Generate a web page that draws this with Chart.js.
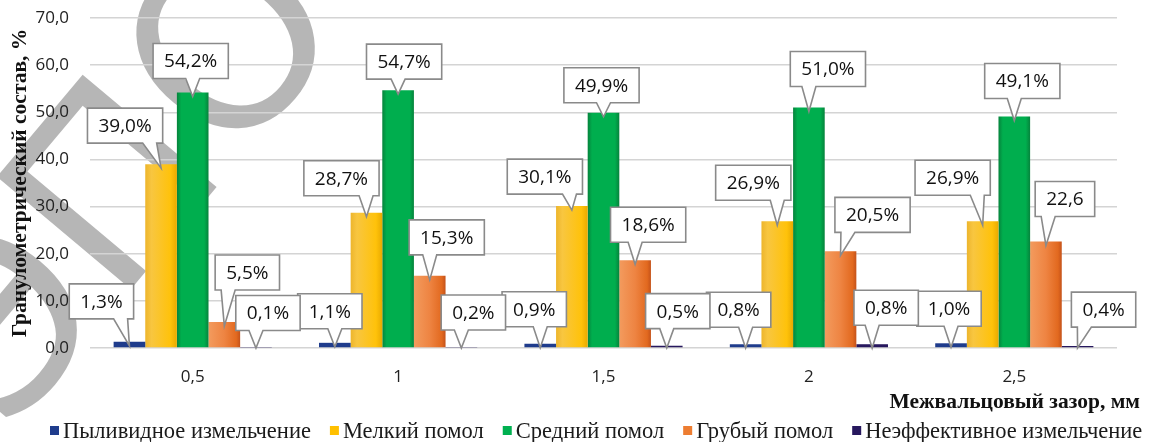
<!DOCTYPE html>
<html>
<head>
<meta charset="utf-8">
<script src="https://cdn.jsdelivr.net/npm/chart.js@4.4.1/dist/chart.umd.min.js"></script>
<style>
  html, body { margin: 0; padding: 0; background: #fff; }
  #chart { display: block; }
</style>
</head>
<body>
<canvas id="chart" width="1151" height="442"></canvas>
<script>
/* --------------- Data --------------- */
const gapLabels = ["0,5", "1", "1,5", "2", "2,5"];
const seriesNames = [
  "Пыливидное измельчение",
  "Мелкий помол",
  "Средний помол",
  "Грубый помол",
  "Неэффективное измельчение",
];
const dustValues = [1.3, 1.1, 0.9, 0.8, 1.0];
const fineValues = [39.0, 28.7, 30.1, 26.9, 26.9];
const mediumValues = [54.2, 54.7, 49.9, 51.0, 49.1];
const coarseValues = [5.5, 15.3, 18.6, 20.5, 22.6];
const wasteValues = [0.1, 0.2, 0.5, 0.8, 0.4];
const yTicks = [0, 10, 20, 30, 40, 50, 60, 70];
// the 2,5 label of "Грубый помол" was printed without the % sign
const labelNoPercent = [[3, 4]];

/* --------------- Colors --------------- */
const seriesColors = ["#1F3C8C", "#FFC000", "#00B050", "#ED7D31", "#27185E"];
const seriesStops = [
  null,
  [[0, "#EDB52C"], [0.2, "#F8C640"], [0.8, "#FFC20A"], [1, "#E9AA00"]],
  [[0, "#06833C"], [0.14, "#00AE4E"], [0.86, "#00AE4E"], [1, "#06833C"]],
  [[0, "#F39B5E"], [0.5, "#EE8442"], [0.88, "#E2691F"], [1, "#C4521A"]],
  null,
];

/* --------------- Callout placement (box shift x, gap above bar) per category/series --------------- */
const calloutShift = [
  [-28, -36, -2, 23, 12],
  [-5, -25, 6, 17, 12],
  [-6, -27, -2, 13, 11],
  [-7, -24, 19, 32, 14],
  [-2, -30, 8, 19, 26],
];
const calloutGap = [
  [23, 21, 14, 32, 17],
  [14, 17, 11, 21, 17],
  [17, 12, 10, 18, 17],
  [17, 21, 21, 19, 19],
  [17, 26, 18, 25, 19],
];

const chartData = [dustValues, fineValues, mediumValues, coarseValues, wasteValues];
const fmt = (v) => v.toFixed(1).replace(".", ",");
const labelText = (si, i) => {
  const bare = labelNoPercent.some((p) => p[0] === si && p[1] === i);
  return fmt(chartData[si][i]) + (bare ? "" : "%");
};

/* --------------- Plugins --------------- */
const watermark = {
  id: "watermark",
  beforeDraw(chart) {
    const ctx = chart.ctx;
    ctx.save();
    ctx.setTransform(1, 0, 0, 1, 0, 0);
    ctx.fillStyle = "#ffffff";
    ctx.fillRect(0, 0, chart.width, chart.height);
    const a = -50 * Math.PI / 180;
    ctx.setTransform(Math.cos(a), Math.sin(a), -Math.sin(a), Math.cos(a), 225, 40);
    ctx.font = '240px "DejaVu Sans"';
    ctx.textAlign = "left";
    ctx.textBaseline = "alphabetic";
    ctx.fillStyle = "rgba(110,110,110,0.5)";
    const off = ctx.measureText("ЭП").width + ctx.measureText("О").width / 2;
    ctx.fillText("ЭПОС", -off, 88);
    ctx.restore();
  },
};

const barShading = {
  id: "barShading",
  beforeDatasetsDraw(chart) {
    const ctx = chart.ctx;
    chart.data.datasets.forEach((ds, si) => {
      const stops = seriesStops[si];
      if (!stops) return;
      chart.getDatasetMeta(si).data.forEach((bar) => {
        const g = ctx.createLinearGradient(bar.x - bar.width / 2, 0, bar.x + bar.width / 2, 0);
        stops.forEach((s) => g.addColorStop(s[0], s[1]));
        bar.options = Object.assign({}, bar.options, { backgroundColor: g });
      });
    });
  },
};

const callouts = {
  id: "callouts",
  afterDatasetsDraw(chart) {
    const ctx = chart.ctx;
    ctx.save();
    ctx.font = '19px "Open Sans"';
    ctx.textAlign = "center";
    ctx.textBaseline = "middle";
    chart.data.datasets.forEach((ds, si) => {
      chart.getDatasetMeta(si).data.forEach((bar, i) => {
        const text = labelText(si, i);
        const w = ctx.measureText(text).width + 22;
        const h = 35;
        const cx = bar.x + calloutShift[i][si];
        const bottom = bar.y - calloutGap[i][si];
        const left = cx - w / 2;
        const top = bottom - h;
        const tipX = bar.x;
        const tipY = Math.min(bar.y + 4, chart.chartArea.bottom);
        const bc = Math.min(Math.max(tipX, left + 13), left + w - 13);
        ctx.beginPath();
        ctx.moveTo(left, top);
        ctx.lineTo(left + w, top);
        ctx.lineTo(left + w, bottom);
        ctx.lineTo(bc + 7, bottom);
        ctx.lineTo(tipX, tipY);
        ctx.lineTo(bc - 7, bottom);
        ctx.lineTo(left, bottom);
        ctx.closePath();
        ctx.fillStyle = "#ffffff";
        ctx.fill();
        ctx.lineWidth = 1.6;
        ctx.strokeStyle = "#8a8a8a";
        ctx.stroke();
        ctx.fillStyle = "#111";
        ctx.fillText(text, cx, top + h / 2 + 1);
      });
    });
    ctx.restore();
  },
};

const bottomTexts = {
  id: "bottomTexts",
  afterDraw(chart) {
    const ctx = chart.ctx;
    ctx.save();
    // x axis title
    ctx.font = 'bold 21.5px "Liberation Serif"';
    ctx.fillStyle = "#111";
    ctx.textAlign = "right";
    ctx.textBaseline = "middle";
    ctx.fillText("Межвальцовый зазор, мм", 1140, 402);
    // legend
    ctx.font = '22.5px "Liberation Serif"';
    ctx.textAlign = "left";
    let x = 50;
    const y = 431;
    seriesNames.forEach((name, si) => {
      ctx.fillStyle = seriesColors[si];
      ctx.fillRect(x, y - 5, 9, 9);
      ctx.fillStyle = "#1a1a1a";
      ctx.fillText(name, x + 13, y + 1);
      x += 13 + ctx.measureText(name).width + 19;
    });
    ctx.restore();
  },
};

/* --------------- Chart --------------- */
new Chart(document.getElementById("chart"), {
  type: "bar",
  plugins: [watermark, barShading, callouts, bottomTexts],
  data: {
    labels: gapLabels,
    datasets: chartData.map((vals, si) => ({
      label: seriesNames[si],
      data: vals,
      backgroundColor: seriesColors[si],
      borderWidth: 0,
      barPercentage: 1,
      categoryPercentage: 0.77,
    })),
  },
  options: {
    responsive: false,
    animation: false,
    layout: { padding: { left: 8, right: 34, top: 18, bottom: 0 } },
    plugins: { legend: { display: false }, tooltip: { enabled: false } },
    scales: {
      x: {
        grid: { display: false },
        border: { display: false },
        ticks: { font: { family: "Open Sans", size: 17 }, color: "#222", padding: 11 },
        afterFit: (s) => { s.height = 94; },
      },
      y: {
        min: 0,
        max: 70,
        afterBuildTicks: (s) => { s.ticks = yTicks.map((v) => ({ value: v })); },
        ticks: { callback: (v) => fmt(v), font: { family: "Open Sans", size: 17 }, color: "#222", padding: 21 },
        grid: { color: "#d4d4d4", lineWidth: 1.5, drawTicks: false },
        border: { display: false },
        title: {
          display: true,
          text: "Гранулометрический состав, %",
          font: { family: "Liberation Serif", size: 21.5, weight: "bold" },
          color: "#111",
          padding: 0,
        },
        afterFit: (s) => {
          s.width = 82;
          s.paddingTop = 0;
          s.paddingBottom = 0;
        },
      },
    },
  },
});
</script>
</body>
</html>
